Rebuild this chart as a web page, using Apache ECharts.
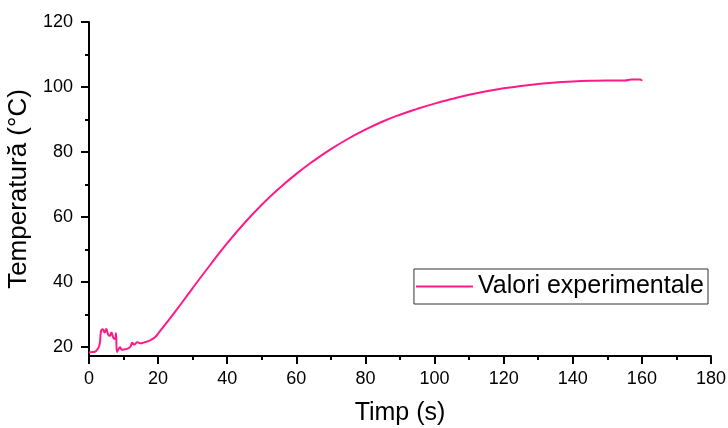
<!DOCTYPE html>
<html>
<head>
<meta charset="utf-8">
<script src="https://cdn.jsdelivr.net/npm/echarts@6/dist/echarts.min.js"></script>
<style>
  html, body { margin: 0; padding: 0; background: #fff; }
  #chart { width: 728px; height: 428px; }
</style>
</head>
<body>
<div id="chart"></div>
<script>
// timpul (s) si temperatura masurata (°C)
const timp = [
  0, 1, 2, 3, 3.5, 4, 4.5, 5, 5.5, 6, 6.5, 7, 7.5, 7.8, 8.1, 8.5, 9, 9.5, 10,
  11, 12, 12.5, 13, 14, 15, 16, 17, 18, 19, 20,
  25, 30, 35, 40, 45, 50, 55, 60, 65, 70, 75, 80, 85, 90, 95, 100,
  105, 110, 115, 120, 125, 130, 135, 140, 145, 150, 155, 157, 159.5, 160
]
const temperatura = [
  18.4, 18.5, 18.8, 20.5, 25, 25.5, 24.5, 25.6, 24, 23.5, 24.5, 23, 22.5, 24.3, 18.5, 19.3, 20, 19.2, 19.3,
  19.5, 20.2, 21.4, 20.8, 21.5, 21.2, 21.5, 21.8, 22.3, 23, 24.2,
  31.0, 38.2, 45.2, 52.0, 58.2, 63.8, 68.8, 73.3, 77.3, 80.9, 84.1, 86.9, 89.4, 91.5, 93.3, 94.9,
  96.3, 97.6, 98.7, 99.6, 100.3, 100.9, 101.4, 101.7, 101.9, 102, 102, 102.3, 102.3, 101.9
]
const yTicks = [20, 40, 60, 80, 100, 120]
const yMinorTicks = [30, 50, 70, 90, 110]

const chart = echarts.init(document.getElementById('chart'))
const font = 'Liberation Sans, Arial, sans-serif'
const culoare = '#ff1a88'
const axisCommon = {
  axisLine: { show: true, onZero: false, lineStyle: { color: '#000', width: 2 } },
  splitLine: { show: false }
}

chart.setOption({
  animation: false,
  grid: { left: 89, right: 17, top: 22, bottom: 72, outerBoundsMode: 'none' },
  legend: {
    right: 20,
    top: 269,
    padding: [5, 4, 5, 2],
    borderColor: '#333',
    borderWidth: 1,
    itemWidth: 57,
    itemHeight: 2,
    textStyle: { fontFamily: font, fontSize: 25, color: '#000' },
    data: [{ name: 'Valori experimentale', icon: 'rect' }]
  },
  xAxis: {
    ...axisCommon,
    type: 'value',
    min: 0,
    max: 180,
    interval: 20,
    name: 'Timp (s)',
    nameLocation: 'middle',
    nameGap: 45,
    nameTextStyle: { fontFamily: font, fontSize: 25, color: '#000' },
    axisTick: { show: true, length: 8, lineStyle: { color: '#000', width: 2 } },
    minorTick: { show: true, splitNumber: 2, length: 4, lineStyle: { color: '#000', width: 2 } },
    axisLabel: { fontFamily: font, fontSize: 18, color: '#000', margin: 14, showMaxLabel: true }
  },
  yAxis: [
    {
      ...axisCommon,
      type: 'value',
      min: 17.3,
      max: 120,
      name: 'Temperatură (°C)',
      nameLocation: 'middle',
      nameGap: 50,
      nameTextStyle: { fontFamily: font, fontSize: 26, color: '#000' },
      axisTick: { show: true, length: 8, customValues: yTicks, lineStyle: { color: '#000', width: 2 } },
      axisLabel: { fontFamily: font, fontSize: 18, color: '#000', margin: 16, customValues: yTicks }
    },
    {
      // doar pentru gradatiile mici
      type: 'value',
      min: 17.3,
      max: 120,
      position: 'left',
      axisLine: { show: false },
      splitLine: { show: false },
      axisTick: { show: true, length: 4, customValues: yMinorTicks, lineStyle: { color: '#000', width: 2 } },
      axisLabel: { show: false, customValues: yMinorTicks }
    }
  ],
  series: [
    {
      name: 'Valori experimentale',
      type: 'line',
      symbol: 'none',
      smooth: 0.5,
      data: timp.map((t, i) => [t, temperatura[i]]),
      itemStyle: { color: culoare },
      lineStyle: { color: culoare, width: 2 }
    }
  ]
})
</script>
</body>
</html>
